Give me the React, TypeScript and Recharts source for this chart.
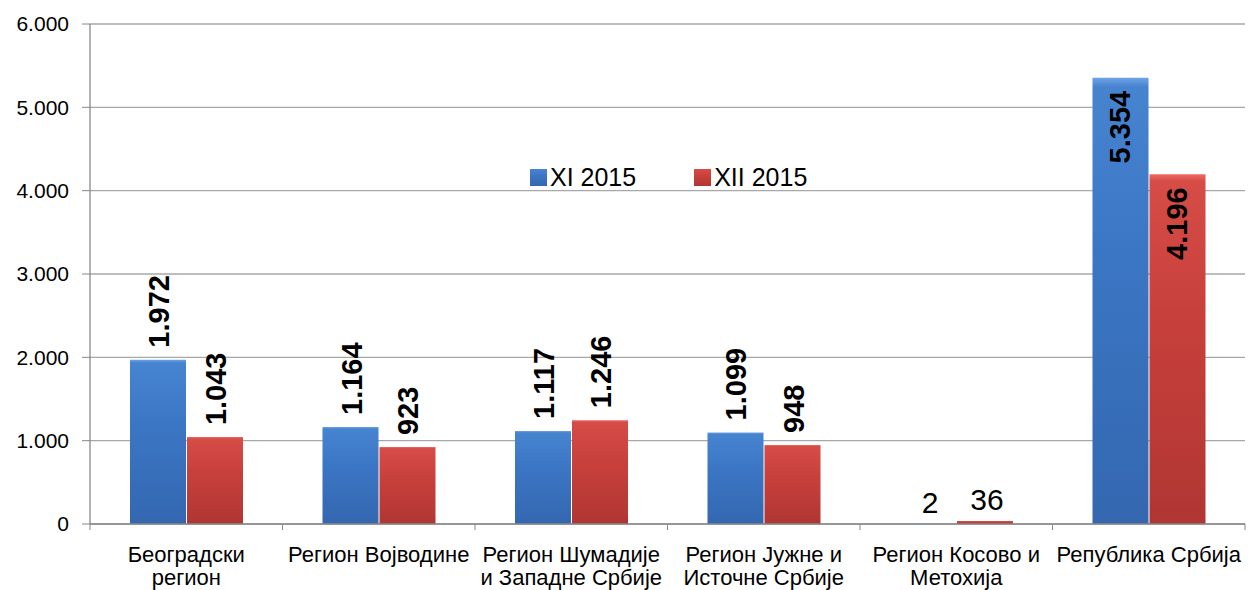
import React from "react";
import { BarChart, Bar, XAxis, YAxis, CartesianGrid, Legend } from "recharts";

const categories = [
  "Београдски\nрегион",
  "Регион Војводине",
  "Регион Шумадије\nи Западне Србије",
  "Регион Јужне и\nИсточне Србије",
  "Регион Косово и\nМетохија",
  "Република Србија",
];
const xi2015 = [1972, 1164, 1117, 1099, 2, 5354];
const xii2015 = [1043, 923, 1246, 948, 36, 4196];
const yTicks = [0, 1000, 2000, 3000, 4000, 5000, 6000];
const seriesNames = ["XI 2015", "XII 2015"];

const data = categories.map((c, i) => ({ name: c, xi: xi2015[i], xii: xii2015[i] }));

const FONT = "'Liberation Sans', Arial, sans-serif";

const fmt = (v: number) => (v >= 1000 ? (v / 1000).toFixed(3) : String(v));

const makeLabel = (insideIndex: number, plainIndex: number) => (props: any) => {
  const { x, y, width, value, index } = props;
  const cx = Number(x) + Number(width) / 2;
  const top = Number(y);
  if (index === plainIndex) {
    return (
      <text x={cx + 2} y={top - 11} textAnchor="middle" fontFamily={FONT} fontSize={30} fill="#000">
        {fmt(value)}
      </text>
    );
  }
  if (index === insideIndex) {
    const ty = top + 13;
    return (
      <text
        x={cx}
        y={ty}
        transform={`rotate(-90 ${cx} ${ty})`}
        textAnchor="end"
        dominantBaseline="central"
        fontFamily={FONT}
        fontWeight="bold"
        fontSize={29}
        fill="#000"
      >
        {fmt(value)}
      </text>
    );
  }
  const ty = top - 12;
  return (
    <text
      x={cx + 1}
      y={ty}
      transform={`rotate(-90 ${cx + 1} ${ty})`}
      textAnchor="start"
      dominantBaseline="central"
      fontFamily={FONT}
      fontWeight="bold"
      fontSize={29}
      fill="#000"
    >
      {fmt(value)}
    </text>
  );
};

const XTick = (props: any) => {
  const { x, y, payload, index } = props;
  const off = payload && payload.offset ? payload.offset : 96.25;
  const lines = String(payload.value).split("\n");
  return (
    <g>
      <line x1={x - off} y1={y} x2={x - off} y2={y + 6} stroke="#888" strokeWidth={1} />
      {index === categories.length - 1 ? (
        <line x1={x + off} y1={y} x2={x + off} y2={y + 6} stroke="#888" strokeWidth={1} />
      ) : null}
      {lines.map((l, i) => (
        <text
          key={i}
          x={x}
          y={y + 38 + i * 23}
          textAnchor="middle"
          fontFamily={FONT}
          fontSize={22}
          fill="#000"
        >
          {l}
        </text>
      ))}
    </g>
  );
};

const LegendContent = () => (
  <div style={{ display: "flex", alignItems: "center", fontFamily: FONT, fontSize: 25, color: "#000", whiteSpace: "nowrap" }}>
    {seriesNames.map((n, i) => (
      <div key={n} style={{ display: "flex", alignItems: "center", marginRight: i === 0 ? 58 : 0 }}>
        <svg width={17} height={17} style={{ marginRight: 3 }}>
          <rect x={0} y={0} width={17} height={17} fill={i === 0 ? "url(#gBlue)" : "url(#gRed)"} />
        </svg>
        <span>{n}</span>
      </div>
    ))}
  </div>
);

export default function App() {
  return (
    <div style={{ position: "absolute", left: 0, top: 0, width: 1250, height: 590, background: "#fff" }}>
      <BarChart
        width={1250}
        height={590}
        data={data}
        margin={{ top: 24, right: 5, bottom: 0, left: 0 }}
        barCategoryGap="20.6%"
        barGap={1}
      >
        <defs>
          <linearGradient id="gBlue" x1="0" y1="0" x2="0" y2="1">
            <stop offset="0%" stopColor="#6fa3e4" />
            <stop offset="2%" stopColor="#4784d0" />
            <stop offset="40%" stopColor="#3b76c4" />
            <stop offset="100%" stopColor="#3467b0" />
          </linearGradient>
          <linearGradient id="gRed" x1="0" y1="0" x2="0" y2="1">
            <stop offset="0%" stopColor="#ee6a64" />
            <stop offset="2%" stopColor="#d64c47" />
            <stop offset="40%" stopColor="#c8403c" />
            <stop offset="100%" stopColor="#b03633" />
          </linearGradient>
        </defs>
        <CartesianGrid vertical={false} stroke="#a8a8a8" strokeWidth={1.3} />
        <XAxis
          dataKey="name"
          height={66}
          interval={0}
          tickLine={false}
          tickSize={0}
          tickMargin={0}
          axisLine={{ stroke: "#888", strokeWidth: 1.3 }}
          tick={<XTick />}
        />
        <YAxis
          width={90}
          domain={[0, 6000]}
          ticks={yTicks}
          interval={0}
          tickSize={8}
          tickMargin={13}
          tickFormatter={(v: number) => (v === 0 ? "0" : (v / 1000).toFixed(3))}
          tick={{ fontFamily: FONT, fontSize: 21, fill: "#000" }}
          axisLine={{ stroke: "#888", strokeWidth: 1.3 }}
          tickLine={{ stroke: "#888", strokeWidth: 1 }}
        />
        <Legend
          layout="horizontal"
          verticalAlign="middle"
          align="center"
          content={<LegendContent />}
          wrapperStyle={{ position: "absolute", left: 530, top: 163, width: "auto" }}
        />
        <Bar dataKey="xi" name={seriesNames[0]} fill="url(#gBlue)" barSize={56} isAnimationActive={false} label={makeLabel(5, 4)} />
        <Bar dataKey="xii" name={seriesNames[1]} fill="url(#gRed)" barSize={56} isAnimationActive={false} label={makeLabel(5, 4)} />
      </BarChart>
    </div>
  );
}
